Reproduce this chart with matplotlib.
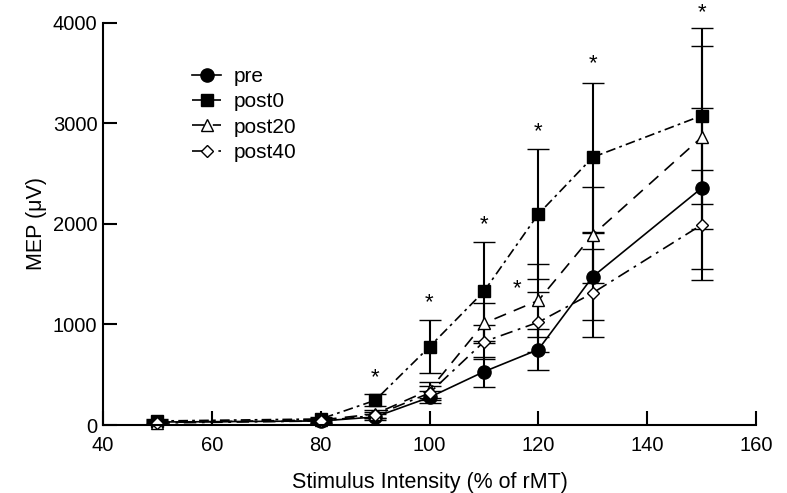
import matplotlib
matplotlib.use("Agg")
import matplotlib.pyplot as plt

plt.rcParams["font.family"] = ["Liberation Sans", "DejaVu Sans"]
plt.rcParams["lines.scale_dashes"] = False

# stimulus intensity (% of rMT)
intensity = [50, 80, 90, 100, 110, 120, 130, 150]

# MEP amplitudes (uV) and error bars
pre = [30, 40, 80, 275, 530, 750, 1475, 2355]
pre_err = [15, 15, 30, 60, 150, 200, 430, 800]
post0 = [40, 60, 245, 778, 1328, 2097, 2662, 3075]
post0_err = [20, 20, 60, 265, 490, 645, 740, 875]
post20 = [25, 50, 110, 348, 1011, 1238, 1890, 2860]
post20_err = [15, 20, 40, 80, 200, 360, 480, 910]
post40 = [20, 40, 95, 318, 828, 1022, 1313, 1990]
post40_err = [10, 15, 30, 70, 170, 300, 440, 550]

# significance markers
star_x = [90, 100, 110, 116, 120, 130, 150]
star_y = [474, 1216, 1988, 1359, 2916, 3595, 4098]

series = [
    ("pre", pre, pre_err, "o", "black", None, 9.5),
    ("post0", post0, post0_err, "s", "black", (0, (7, 3, 2, 3)), 9),
    ("post20", post20, post20_err, "^", "white", (0, (9, 6)), 8),
    ("post40", post40, post40_err, "D", "white", (0, (9, 4, 2, 4)), 6.5),
]

fig = plt.figure(figsize=(7.87, 4.93), dpi=100)
ax = fig.add_axes([0.1309, 0.1379, 0.8297, 0.8161])

handles = []
for name, vals, err, mk, fc, dash, ms in series:
    cont = ax.errorbar(intensity, vals, yerr=err, color="black", lw=1.2,
                       marker=mk, markersize=ms, markerfacecolor=fc,
                       markeredgecolor="black", markeredgewidth=1.0,
                       ecolor="black", elinewidth=1.5, capsize=8, capthick=1.5,
                       linestyle="-" if dash is None else dash, clip_on=False)
    handles.append(cont[0])

for sx, sy in zip(star_x, star_y):
    ax.text(sx, sy, "*", ha="center", va="center", fontsize=16)

ax.set_xlim(40, 160)
ax.set_ylim(0, 4000)
ax.set_xticks(range(40, 161, 20))
ax.set_yticks(range(0, 4001, 1000))
ax.spines["top"].set_visible(False)
ax.spines["right"].set_visible(False)
for s in ("left", "bottom"):
    ax.spines[s].set_linewidth(1.5)
ax.tick_params(direction="in", length=10, width=1.5, labelsize=14.5)
ax.tick_params(axis="x", pad=8)
ax.tick_params(axis="y", pad=4)

ax.set_xlabel("Stimulus Intensity (% of rMT)", fontsize=15.5, labelpad=12)
ax.set_ylabel("MEP (\u03bcV)", fontsize=15.5, labelpad=4)

ax.legend(handles, [s[0] for s in series], loc="upper left",
          bbox_to_anchor=(0.231, 0.885), bbox_transform=fig.transFigure,
          frameon=False, fontsize=15, handlelength=1.4, labelspacing=0.3,
          handletextpad=0.6, borderpad=0)

fig.savefig("out.png", dpi=100)
